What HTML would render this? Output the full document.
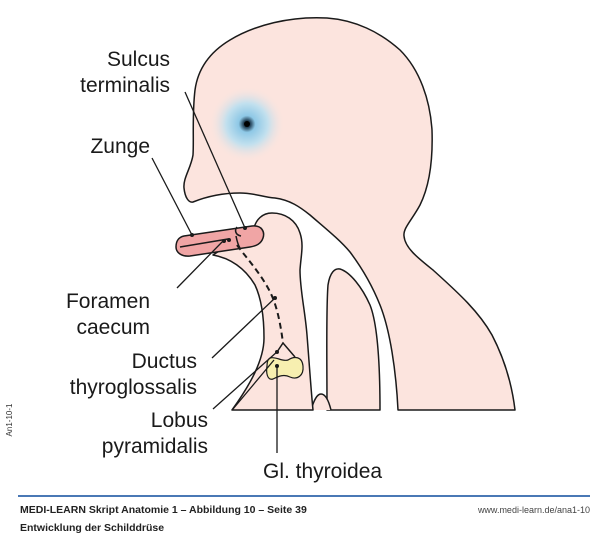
<!DOCTYPE html>
<html><head><meta charset="utf-8"><style>
html,body{margin:0;padding:0;background:#fff;}
svg{display:block}
text{font-family:"Liberation Sans",sans-serif;}
</style></head><body>
<svg width="600" height="535" viewBox="0 0 600 535" xmlns="http://www.w3.org/2000/svg">
<defs>
<radialGradient id="eye" cx="0.5" cy="0.5" r="0.5">
<stop offset="0" stop-color="#000"/>
<stop offset="0.1" stop-color="#2a4a60"/>
<stop offset="0.22" stop-color="#8ec8e6"/>
<stop offset="0.55" stop-color="#c2e0ee"/>
<stop offset="1" stop-color="#fce4de" stop-opacity="0"/>
</radialGradient>
</defs>
<g stroke="#1a1a1a" stroke-width="1.5" fill="#fce4de" stroke-linejoin="round">
<!-- head -->
<path d="M193,202 C203,198 220,193 240,193 C255,193 262,197 275,198 C290,200 300,207 310,215 C325,228 340,240 350,252 C362,268 372,285 380,305 C390,330 396,370 398,410 L515,410 C512,385 505,360 492,335 C478,310 455,290 433,270 C418,258 405,248 404,236 C403,228 412,220 420,205 C430,185 433,160 432,130 C430,100 420,70 400,50 C380,32 355,20 327,18 C290,16 255,25 230,40 C210,52 198,68 195,90 C192,115 194,140 193,155 C191,168 183,178 184,188 C185,198 189,203 193,202 Z"/>
<!-- lobe -->
<path d="M327,410 C327,360 326,310 328,285 C330,272 335,268 340,269 C350,272 362,287 370,305 C378,325 380,370 380,410 Z"/>
<!-- small arch -->
<path d="M311,410 C314,400 317,394 321,394 C326,394 329,402 331,410"/>
<!-- neck front -->
<path d="M213,255 C230,258 245,268 255,285 C262,300 264,320 264,338 C264,360 250,385 232,410 L313,410 C311,390 309,360 307,335 C305,310 300,290 300,270 C301,255 304,245 300,233 C296,220 285,213 272,213 C262,213 256,220 254,228 Z"/>
</g>
<!-- eye -->
<circle cx="247" cy="124" r="38" fill="url(#eye)"/>
<circle cx="247" cy="124" r="3" fill="#000"/>
<!-- tongue -->
<g stroke="#1a1a1a" stroke-width="1.5">
<path d="M184,236 L252,226 C262,225 265,232 263,238 C261,244 256,246 250,247 L190,256 C181,257 176,252 176,247 C176,241 179,237 184,236 Z" fill="#f0a5a5"/>
<path d="M180,247 L228,239" fill="none"/>
<path d="M237,227 C234,231 236,235 241,236 M236,236 C237,241 238,245 240,248" fill="none"/>
</g>
<!-- ductus dashed -->
<path d="M237,245 C244,255 258,270 268,288 C276,302 280,320 283,343" fill="none" stroke="#1a1a1a" stroke-width="2" stroke-dasharray="6,4"/>
<path d="M277,352 L283,343 L295,357" fill="none" stroke="#1a1a1a" stroke-width="1.5"/>
<!-- thyroid -->
<path d="M270,358 C276,356 282,362 288,360 C294,356 302,356 303,366 C304,376 297,380 290,377 C284,374 279,376 273,379 C267,381 266,372 267,366 C267,362 268,359 270,358 Z" fill="#f7efb0" stroke="#1a1a1a" stroke-width="1.2"/>
<!-- leader lines -->
<g stroke="#1a1a1a" stroke-width="1.3" fill="none">
<line x1="185" y1="92" x2="245" y2="228"/>
<line x1="152" y1="158" x2="192" y2="235"/>
<line x1="177" y1="288" x2="224" y2="240"/>
<line x1="212" y1="358" x2="275" y2="298"/>
<line x1="213" y1="409" x2="278" y2="351"/>
<line x1="233" y1="409" x2="274" y2="360"/>
<line x1="277" y1="366" x2="277" y2="453"/>
</g>
<g fill="#1a1a1a">
<circle cx="245" cy="228" r="2"/><circle cx="192" cy="235" r="2"/><circle cx="224" cy="241" r="2"/><circle cx="229" cy="240" r="2"/>
<circle cx="275" cy="298" r="2"/><circle cx="277" cy="352" r="2"/><circle cx="277" cy="366" r="2"/>
</g>
<g font-size="21" fill="#1a1a1a">
<text x="170" y="66" text-anchor="end">Sulcus</text>
<text x="170" y="92" text-anchor="end">terminalis</text>
<text x="150" y="153" text-anchor="end">Zunge</text>
<text x="150" y="308" text-anchor="end">Foramen</text>
<text x="150" y="334" text-anchor="end">caecum</text>
<text x="197" y="368" text-anchor="end">Ductus</text>
<text x="197" y="394" text-anchor="end">thyroglossalis</text>
<text x="208" y="427" text-anchor="end">Lobus</text>
<text x="208" y="453" text-anchor="end">pyramidalis</text>
<text x="263" y="478">Gl. thyroidea</text>
</g>
<text x="12" y="420" font-size="8" fill="#333" transform="rotate(-90 12 420)" text-anchor="middle">An1-10-1</text>
<line x1="18" y1="496" x2="590" y2="496" stroke="#4a78b5" stroke-width="2"/>
<text x="20" y="513" font-size="10.5" font-weight="bold" fill="#222">MEDI-LEARN Skript Anatomie 1 – Abbildung 10 – Seite 39</text>
<text x="590" y="513" font-size="9" fill="#444" text-anchor="end">www.medi-learn.de/ana1-10</text>
<text x="20" y="531" font-size="10.5" font-weight="bold" fill="#222">Entwicklung der Schilddrüse</text>
</svg>
</body></html>
